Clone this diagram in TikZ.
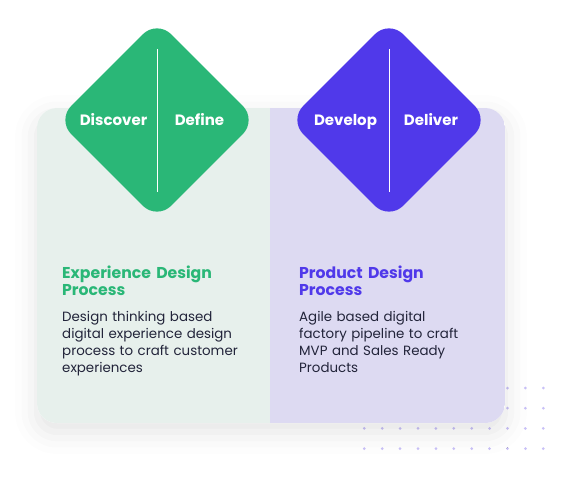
\documentclass[tikz,border=0pt]{standalone}
\usepackage{fontspec}
\setmainfont{Poppins}
\usetikzlibrary{shapes.geometric,shadows.blur}
\definecolor{xgreen}{HTML}{2AB777}
\definecolor{xgreenbg}{HTML}{E7F0EC}
\definecolor{ppurple}{HTML}{5039EA}
\definecolor{ppurplebg}{HTML}{DDDAF2}
\definecolor{dotc}{HTML}{C9C1F7}
\definecolor{ink}{HTML}{22243A}
\tikzset{
    phase/.style={diamond, minimum width=200pt, minimum height=200pt, inner sep=0pt, rounded corners=20pt},
    steplabel/.style={text=white, font=\bfseries\fontsize{15}{17}\selectfont, inner sep=0pt, text height=10.5pt, text depth=0pt},
    headline/.style={anchor=base west, inner sep=0pt, text width=220pt, font=\bfseries\fontsize{15.7}{17}\selectfont},
    blurb/.style={anchor=base west, inner sep=0pt, text width=220pt, text=ink, font=\fontsize{13.4}{17}\selectfont},
    divider/.style={white, line width=1pt}
}
\begin{document}
\begin{tikzpicture}[x=1pt, y=-1pt]
    \useasboundingbox (0, 0) rectangle (568, 483);
    % dot grid behind the cards
    \foreach \i in {0,...,10}
        \foreach \j in {0,...,3}
            \fill[dotc](364.3+17.9*\i, 388+20.2*\j) circle (1.5pt);
    % cards
    \path[fill=white, rounded corners=20pt, blur shadow={shadow xshift=0pt, shadow yshift=-9pt, shadow blur radius=22pt, shadow opacity=11}](37, 108) rectangle (505, 423);
    \begin{scope}
        \clip[rounded corners=20pt](37, 108) rectangle (505, 423);
        \fill[xgreenbg](37, 108) rectangle (270, 423);
        \fill[ppurplebg](270, 108) rectangle (505, 423);
    \end{scope}
    % diamonds
    \node[phase, fill=xgreen](xd) at (157, 120){};
    \node[phase, fill=ppurple](pd) at (389, 120){};
    \draw[divider]([yshift=-29pt]xd.north)--([yshift=28pt]xd.south);
    \draw[divider]([yshift=-29pt]pd.north)--([yshift=28pt]pd.south);
    \node[steplabel](discover) at ([xshift=-43.5pt]xd.center){Discover};
    \node[steplabel](define) at ([xshift=42.5pt]xd.center){Define};
    \node[steplabel](develop) at ([xshift=-43.5pt]pd.center){Develop};
    \node[steplabel](deliver) at ([xshift=42pt]pd.center){Deliver};
    % card texts
    \node[headline, text=xgreen](xtitle) at (62, 278){Experience Design\\Process};
    \node[blurb](xtext) at (62, 321){Design thinking based\\digital experience design\\process to craft customer\\experiences};
    \node[headline, text=ppurple](ptitle) at (299, 278){Product Design\\Process};
    \node[blurb](ptext) at (299, 321){Agile based digital\\factory pipeline to craft\\MVP and Sales Ready\\Products};
\end{tikzpicture}
\end{document}
